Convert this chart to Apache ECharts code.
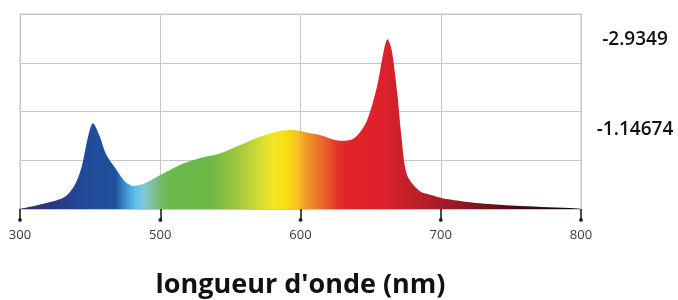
<!DOCTYPE html>
<html>
<head>
<meta charset="utf-8">
<script src="https://cdn.jsdelivr.net/npm/echarts@6/dist/echarts.min.js"></script>
<style>
  html, body { margin: 0; padding: 0; background: #fff; }
  #spectre { width: 678px; height: 300px; }
</style>
</head>
<body>
<div id="spectre"></div>
<script>
// longueur d'onde (nm) et intensité relative (0-100 = hauteur du cadre)
var wavelengths = [400, 418, 432, 439, 444, 448, 452, 457, 461, 468, 475, 481, 489, 500, 514, 528, 543, 557, 571, 585,
    595, 607, 614, 628, 638, 647, 654.5, 659, 662, 665, 669, 672, 676, 685, 695, 704, 728, 757, 797, 800];
var intensity = [0, 2.9, 6.3, 12.3, 21.7, 35.4, 44, 37, 28.6, 20.9, 14, 11.8, 13.2, 17.4, 22.6, 26, 28.6, 32.8, 37, 40,
    40.5, 38.8, 37.9, 35, 36.2, 44.8, 62.7, 79.8, 87, 81.5, 59.3, 37, 17.4, 9.2, 6.8, 5.1, 2.9, 1.5, 0.3, 0];

// graduations de l'axe x (les libellés sont ceux de l'image)
var xTicks = [400, 500, 600, 700, 800];
var xTickLabels = ['300', '500', '600', '700', '800'];

// libellés de droite
var rightLabelValues = [86.7, 40.5];
var rightLabelTexts = ['-2.9349', '-1.14674'];

// dégradé spectral
var gradWl = [400, 428, 444, 468, 476, 482, 488, 500, 509, 536, 557, 571, 580, 588, 598, 604, 616, 626, 633,
    657, 680, 704, 728, 752, 776, 800];
var gradColors = ['#2b2e6c', '#283b82', '#20499a', '#22519b', '#3f97d2', '#5cc1ea', '#80c8d8', '#76bc6a', '#6ab94a',
    '#6cb947', '#a6c93e', '#d4dc30', '#f2e52a', '#f9e20f', '#f7c020', '#f29a28', '#e9672a', '#e3352b', '#e1232b',
    '#e0212b', '#c0202a', '#a01c26', '#7a1419', '#4a0c0f', '#2a0808', '#1a0505'];

var chart = echarts.init(document.getElementById('spectre'));

var seriesData = [];
for (var i = 0; i < wavelengths.length; i++) {
    seriesData.push([wavelengths[i], intensity[i]]);
}
var stops = [];
for (var j = 0; j < gradWl.length; j++) {
    stops.push({ offset: (gradWl[j] - 400) / 400, color: gradColors[j] });
}
var dots = [];
for (var k = 0; k < xTicks.length; k++) {
    dots.push([xTicks[k], 0]);
}

var option = {
    animation: false,
    grid: [
        { left: 20, right: 97, top: 14, bottom: 91, outerBoundsMode: 'none', show: true, borderColor: '#c6c6c6', borderWidth: 1 },
        { left: 20, right: 97, top: 219, height: 2, outerBoundsMode: 'none' }
    ],
    xAxis: [{
        gridIndex: 0,
        type: 'value',
        min: 400,
        max: 800,
        interval: 100,
        axisLine: { show: true, lineStyle: { color: '#c6c6c6', width: 1 } },
        axisTick: { show: true, length: 12, lineStyle: { color: '#111', width: 1.5 } },
        splitLine: { show: true, lineStyle: { color: '#c6c6c6', width: 1 } },
        axisLabel: {
            margin: 20,
            color: '#3a3a3a',
            fontSize: 13,
            fontFamily: 'Open Sans',
            formatter: function(v) {
                var idx = xTicks.indexOf(v);
                return idx >= 0 ? xTickLabels[idx] : '';
            }
        },
        name: "longueur d'onde (nm)",
        nameLocation: 'middle',
        nameGap: 63,
        nameTextStyle: { fontSize: 27, fontWeight: 'bold', color: '#111', fontFamily: 'Open Sans' }
    }, {
        gridIndex: 1,
        type: 'value',
        min: 400,
        max: 800,
        show: false
    }],
    yAxis: [{
        gridIndex: 0,
        type: 'value',
        min: 0,
        max: 100,
        interval: 25,
        axisLine: { show: true, lineStyle: { color: '#c6c6c6' } },
        axisTick: { show: false },
        axisLabel: { show: false },
        splitLine: { show: true, lineStyle: { color: '#c6c6c6', width: 1 } }
    }, {
        gridIndex: 0,
        type: 'value',
        position: 'right',
        min: 0,
        max: 100,
        axisLine: { show: false },
        axisTick: { show: false },
        splitLine: { show: false },
        axisLabel: {
            customValues: rightLabelValues,
            align: 'center',
            margin: 54,
            fontSize: 19,
            fontWeight: 600,
            color: '#111',
            fontFamily: 'Open Sans',
            formatter: function(v) {
                var idx = rightLabelValues.indexOf(v);
                return idx >= 0 ? rightLabelTexts[idx] : '';
            }
        }
    }, {
        gridIndex: 1,
        type: 'value',
        min: -1,
        max: 1,
        show: false
    }],
    series: [{
        type: 'line',
        xAxisIndex: 0,
        yAxisIndex: 0,
        data: seriesData,
        smooth: 0.3,
        showSymbol: false,
        lineStyle: { width: 0 },
        areaStyle: {
            opacity: 1,
            color: new echarts.graphic.LinearGradient(0, 0, 1, 0, stops)
        },
        z: 3
    }, {
        type: 'scatter',
        xAxisIndex: 1,
        yAxisIndex: 2,
        data: dots,
        symbolSize: 4,
        itemStyle: { color: '#111' },
        silent: true
    }]
};
chart.setOption(option);
</script>
</body>
</html>
